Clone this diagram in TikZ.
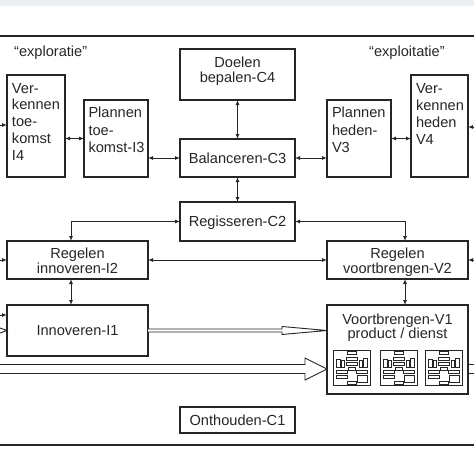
\documentclass[tikz,border=0pt]{standalone}
\usepackage{fontspec}
\setmainfont{Liberation Sans}
\usetikzlibrary{arrows.meta}
\definecolor{ink}{HTML}{262626}
\definecolor{band}{HTML}{ECEFF3}
\newcommand{\bx}[5]{\parbox[c][#2][t]{#1}{#4\rule{0pt}{#3}#5\par}}
\newcommand{\lft}[1]{\raggedright\leftskip=#1\relax}
\tikzset{
  box/.style={draw=ink, line width=1.4pt, inner sep=0pt, outer sep=0pt, anchor=north west, fill=white, text=ink},
  conn/.style={draw=ink, line width=0.9pt},
  tipstyle/.style={},
  both/.style={conn, {Latex[length=5pt,width=4pt]}-{Latex[length=5pt,width=4pt]}},
  one/.style={conn, -{Latex[length=5pt,width=4pt]}},
  frameline/.style={draw=ink, line width=1.4pt},
  hollow/.style={draw=ink, line width=0.9pt, fill=white, line join=miter},
  icon/.style={draw=ink, line width=0.7pt},
  lbl/.style={inner sep=0pt, anchor=base west, text=ink},
  every node/.style={font=\fontsize{14.6}{17}\selectfont},
}
\begin{document}
\begin{tikzpicture}[x=1pt, y=-1pt]
\useasboundingbox (0,0) rectangle (474,474);
\fill[band] (0,0) rectangle (474,6);
\draw[frameline] (0,36) -- (474,36);
\draw[frameline] (0,445) -- (474,445);

\node[lbl] (expl) at (14,56.5) {“exploratie”};
\node[lbl] (expt) at (369,56.5) {“exploitatie”};

% boxes
\node[box] (i4) at (7,75) {\bx{58pt}{102pt}{18pt}{\lft{5pt}\baselineskip=16.8pt}{Ver-\\kennen\\toe-\\komst\\I4}};
\node[box] (i3) at (84,100) {\bx{64pt}{77pt}{17.5pt}{\lft{4.5pt}\baselineskip=17.5pt}{Plannen\\toe-\\komst-I3}};
\node[box] (c4) at (180,49) {\bx{115pt}{51pt}{18pt}{\centering\baselineskip=15pt}{Doelen\\bepalen-C4}};
\node[box] (c3) at (180,139) {\bx{115pt}{38pt}{24pt}{\centering}{Balanceren-C3}};
\node[box] (c2) at (180,202) {\bx{115pt}{39pt}{24.7pt}{\centering}{Regisseren-C2}};
\node[box] (v3) at (327,100) {\bx{64pt}{77pt}{17.5pt}{\lft{5pt}\baselineskip=17.5pt}{Plannen\\heden-\\V3}};
\node[box] (v4) at (411,75) {\bx{57pt}{102pt}{18pt}{\lft{5pt}\baselineskip=17pt}{Ver-\\kennen\\heden\\V4}};
\node[box] (i2) at (7,241) {\bx{141pt}{38pt}{17.5pt}{\centering\baselineskip=15pt}{Regelen\\innoveren-I2}};
\node[box] (v2) at (327,241) {\bx{141pt}{38pt}{17.5pt}{\centering\baselineskip=15pt}{Regelen\\voortbrengen-V2}};
\node[box] (i1) at (7,305) {\bx{141pt}{51pt}{30.5pt}{\centering}{Innoveren-I1}};
\node[box] (v1) at (327,305) {\bx{141pt}{89pt}{19.7pt}{\centering\baselineskip=14pt}{Voortbrengen-V1\\product / dienst}};
\node[box] (c1) at (180,407) {\bx{115pt}{26pt}{18.7pt}{\centering}{Onthouden-C1}};

% icons inside V1
\foreach \ox in {333,380,425} {
  \begin{scope}[shift={(\ox,350)}]
    \draw[icon] (0,0) rectangle (37,35);
    \draw[icon] (14,1.5) rectangle (23,4.5);
    \draw[icon] (3,9) rectangle (7,17);
    \draw[icon] (8,10) rectangle (11,17);
    \draw[icon] (13,7) rectangle (24,10);
    \draw[icon] (13,12) rectangle (24,15);
    \draw[icon] (15,17) rectangle (22,20);
    \draw[icon] (26,10) rectangle (29,17);
    \draw[icon] (30,8) rectangle (34,17);
    \draw[icon] (3,20) rectangle (14,23);
    \draw[icon] (3,25.5) rectangle (14,28.5);
    \draw[icon] (23,20) rectangle (34,23);
    \draw[icon] (24,25) rectangle (34,32);
    \draw[icon] (14,31.5) rectangle (23,34);
  \end{scope}
}

% connectors
\coordinate (inI4) at (0,125);
\draw[one] (inI4) -- (inI4 -| i4.west);
\draw[both] (i4.east |- i3.west) -- (i3.west);
\draw[both] (i3.east |- c3.west) -- (c3.west);
\draw[both] (c3.east) -- (c3.east -| v3.west);
\draw[both] (v3.east) -- (v3.east -| v4.west);
\coordinate (inV4) at (474,127);
\draw[one] (inV4) -- (inV4 -| v4.east);
\draw[both] (c4.south) -- (c3.north);
\draw[both] (c3.south) -- (c2.north);
\coordinate (xl) at (71,0);
\coordinate (xr) at (405,0);
\draw[both] (c2.west) -| (xl |- i2.north);
\draw[both] (c2.east) -| (xr |- v2.north);
\draw[both] (i2.east) -- (v2.west);
\coordinate (inI2) at (0,260);
\draw[one] (inI2) -- (inI2 -| i2.west);
\coordinate (inV2) at (474,260);
\draw[one] (inV2) -- (inV2 -| v2.east);
\draw[both] (xl |- i2.south) -- (xl |- i1.north);
\draw[both] (xr |- v2.south) -- (xr |- v1.north);
\coordinate (inI1) at (0,315);
\draw[one] (inI1) -- (inI1 -| i1.west);

% thin hollow arrow I1 -> V1
\coordinate (tA) at (v1.west |- i1.east);
\draw[hollow] ([yshift=1.5pt]i1.east) -- ([xshift=-45pt,yshift=1.5pt]tA) -- ([xshift=-45pt,yshift=4pt]tA) -- (tA)
  -- ([xshift=-45pt,yshift=-4pt]tA) -- ([xshift=-45pt,yshift=-1.5pt]tA) -- ([yshift=-1.5pt]i1.east);
% stub into I1
\coordinate (sA) at (0,330.5);
\draw[hollow, fill=none] ([yshift=2.5pt]sA) -- (sA -| i1.west) -- ([yshift=-2.5pt]sA);

% big hollow arrow into V1
\coordinate (tB) at ([yshift=-19.5pt]v1.west);
\coordinate (sB) at (0,369);
\draw[hollow] ([yshift=4.5pt]sB) -- ([xshift=-22pt,yshift=4.5pt]tB) -- ([xshift=-22pt,yshift=11pt]tB) -- (tB)
  -- ([xshift=-22pt,yshift=-11pt]tB) -- ([xshift=-22pt,yshift=-4.5pt]tB) -- ([yshift=-4.5pt]sB);
% outgoing shaft right of V1
\coordinate (oB1) at (474,364.5);
\coordinate (oB2) at (474,373.5);
\draw[conn] (oB1 -| v1.east) -- (oB1);
\draw[conn] (oB2 -| v1.east) -- (oB2);
\end{tikzpicture}
\end{document}
